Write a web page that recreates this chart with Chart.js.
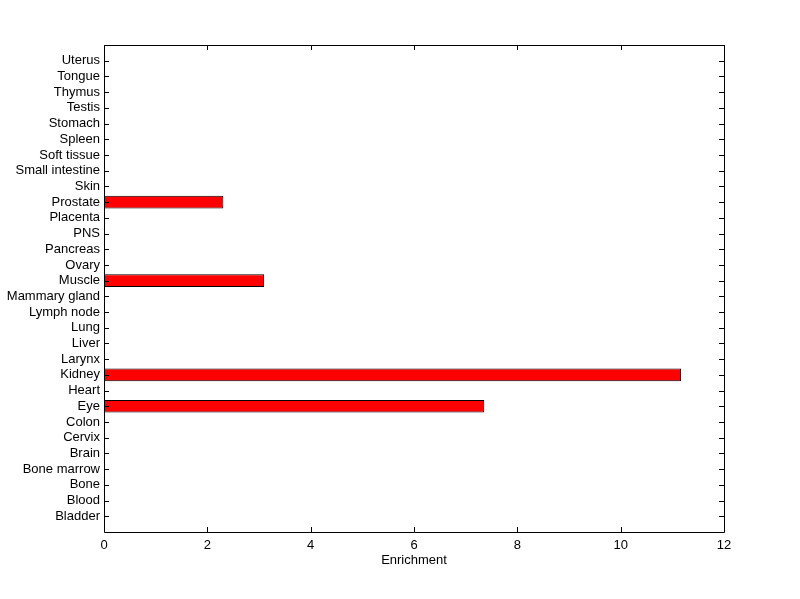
<!DOCTYPE html>
<html>
<head>
<meta charset="utf-8">
<script src="https://cdn.jsdelivr.net/npm/chart.js@4/dist/chart.umd.min.js"></script>
<style>
  html, body { margin:0; padding:0; background:#fff; }
  #wrap { width:800px; height:599px; }
</style>
</head>
<body>
<div id="wrap"><canvas id="c" width="800" height="599"></canvas></div>
<script>
// tissues from bottom (position 1) to top (position 30)
const tissues = ["Bladder","Blood","Bone","Bone marrow","Brain","Cervix","Colon","Eye","Heart","Kidney",
  "Larynx","Liver","Lung","Lymph node","Mammary gland","Muscle","Ovary","Pancreas","PNS","Placenta",
  "Prostate","Skin","Small intestine","Soft tissue","Spleen","Stomach","Testis","Thymus","Tongue","Uterus"];
const enrichment = [0,0,0,0,0,0,0,7.36,0,11.17,
  0,0,0,0,0,3.10,0,0,0,0,
  2.31,0,0,0,0,0,0,0,0,0];
const xTicks = [0,2,4,6,8,10,12];

const font = { family: "'Liberation Sans', Arial, sans-serif", size: 13 };

// MATLAB-style box with inward ticks on all four sides
const boxTicks = {
  id: 'boxTicks',
  afterDraw(chart) {
    const { ctx, chartArea: a, scales } = chart;
    const L = 5;
    ctx.save();
    ctx.strokeStyle = '#000';
    ctx.lineWidth = 1;
    ctx.beginPath();
    ctx.rect(Math.round(a.left) + 0.5, Math.round(a.top) + 0.5,
             Math.round(a.right - a.left), Math.round(a.bottom - a.top));
    tissues.forEach((t, i) => {
      const y = Math.round(scales.y.getPixelForValue(i + 1)) + 0.5;
      ctx.moveTo(a.left, y); ctx.lineTo(a.left + L, y);
      ctx.moveTo(a.right, y); ctx.lineTo(a.right - L, y);
    });
    xTicks.forEach(v => {
      const x = Math.round(scales.x.getPixelForValue(v)) + 0.5;
      ctx.moveTo(x, a.bottom); ctx.lineTo(x, a.bottom - L);
      ctx.moveTo(x, a.top); ctx.lineTo(x, a.top + L);
    });
    ctx.stroke();
    ctx.restore();
  }
};

new Chart(document.getElementById('c'), {
  type: 'bar',
  data: {
    datasets: [{
      data: enrichment.map((v, i) => ({ x: v, y: i + 1 })),
      backgroundColor: '#ff0000',
      borderColor: '#000',
      borderWidth: 1,
      borderSkipped: false,
      barPercentage: 0.8,
      categoryPercentage: 1
    }]
  },
  options: {
    indexAxis: 'y',
    responsive: false,
    animation: false,
    layout: { padding: { top: 45, right: 76, left: 0, bottom: 27 } },
    plugins: { legend: { display: false }, tooltip: { enabled: false } },
    scales: {
      x: {
        type: 'linear', min: 0, max: 12,
        afterBuildTicks: ax => { ax.ticks = xTicks.map(v => ({ value: v })); },
        afterFit: ax => { ax.height = 40; },
        grid: { display: false, drawTicks: false },
        border: { display: false },
        ticks: { color: '#000', font, padding: 6, maxRotation: 0 },
        title: { display: true, text: 'Enrichment', color: '#000', font, padding: { top: 0, bottom: 4 } }
      },
      y: {
        type: 'linear', min: 0, max: 31, offset: false,
        afterBuildTicks: ax => { ax.ticks = tissues.map((t, i) => ({ value: i + 1 })); },
        afterFit: ax => { ax.width = 104; },
        grid: { display: false, drawTicks: false },
        border: { display: false },
        ticks: {
          color: '#000', font, padding: 4, autoSkip: false,
          callback: v => tissues[v - 1]
        }
      }
    }
  },
  plugins: [boxTicks]
});
</script>
</body>
</html>
